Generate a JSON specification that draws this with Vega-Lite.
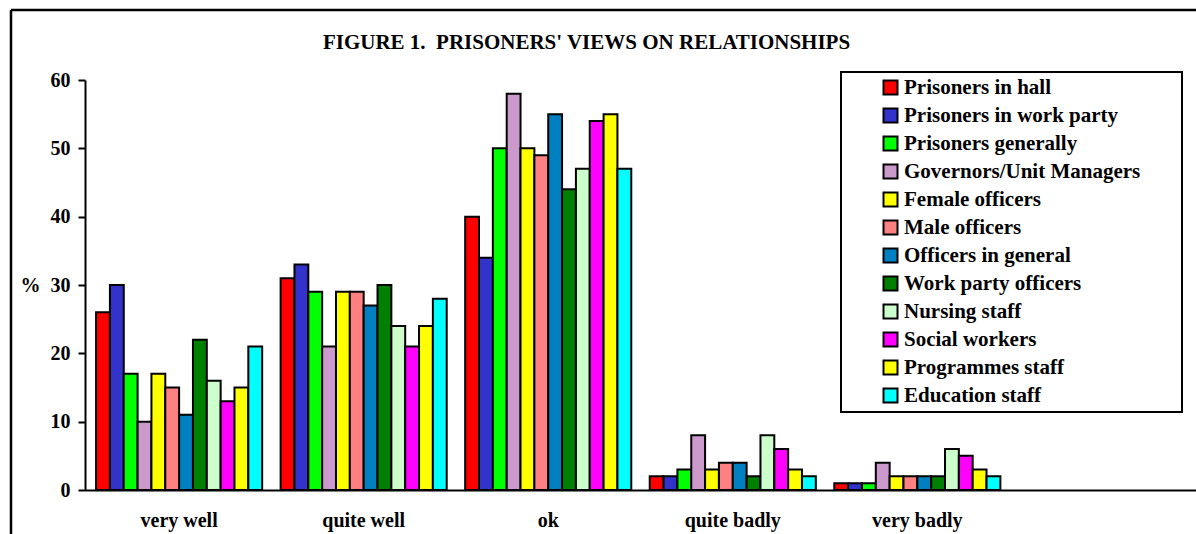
{
  "$schema": "https://vega.github.io/schema/vega-lite/v6.json",
  "width": 1185,
  "height": 524,
  "autosize": "none",
  "padding": {"left": 11, "top": 10, "right": 0, "bottom": 0},
  "background": "white",
  "title": {
    "text": "FIGURE 1.\u00a0 PRISONERS' VIEWS ON RELATIONSHIPS",
    "anchor": "middle",
    "orient": "top",
    "frame": "group",
    "offset": 0,
    "baseline": "middle",
    "dy": 54,
    "dx": -17,
    "font": "Liberation Serif",
    "fontSize": 21,
    "fontWeight": "bold",
    "color": "black"
  },
  "data": {
    "values": [
      {"response": "very well", "series": "Prisoners in hall", "pct": 26},
      {"response": "very well", "series": "Prisoners in work party", "pct": 30},
      {"response": "very well", "series": "Prisoners generally", "pct": 17},
      {"response": "very well", "series": "Governors/Unit Managers", "pct": 10},
      {"response": "very well", "series": "Female officers", "pct": 17},
      {"response": "very well", "series": "Male officers", "pct": 15},
      {"response": "very well", "series": "Officers in general", "pct": 11},
      {"response": "very well", "series": "Work party officers", "pct": 22},
      {"response": "very well", "series": "Nursing staff", "pct": 16},
      {"response": "very well", "series": "Social workers", "pct": 13},
      {"response": "very well", "series": "Programmes staff", "pct": 15},
      {"response": "very well", "series": "Education staff", "pct": 21},
      {"response": "quite well", "series": "Prisoners in hall", "pct": 31},
      {"response": "quite well", "series": "Prisoners in work party", "pct": 33},
      {"response": "quite well", "series": "Prisoners generally", "pct": 29},
      {"response": "quite well", "series": "Governors/Unit Managers", "pct": 21},
      {"response": "quite well", "series": "Female officers", "pct": 29},
      {"response": "quite well", "series": "Male officers", "pct": 29},
      {"response": "quite well", "series": "Officers in general", "pct": 27},
      {"response": "quite well", "series": "Work party officers", "pct": 30},
      {"response": "quite well", "series": "Nursing staff", "pct": 24},
      {"response": "quite well", "series": "Social workers", "pct": 21},
      {"response": "quite well", "series": "Programmes staff", "pct": 24},
      {"response": "quite well", "series": "Education staff", "pct": 28},
      {"response": "ok", "series": "Prisoners in hall", "pct": 40},
      {"response": "ok", "series": "Prisoners in work party", "pct": 34},
      {"response": "ok", "series": "Prisoners generally", "pct": 50},
      {"response": "ok", "series": "Governors/Unit Managers", "pct": 58},
      {"response": "ok", "series": "Female officers", "pct": 50},
      {"response": "ok", "series": "Male officers", "pct": 49},
      {"response": "ok", "series": "Officers in general", "pct": 55},
      {"response": "ok", "series": "Work party officers", "pct": 44},
      {"response": "ok", "series": "Nursing staff", "pct": 47},
      {"response": "ok", "series": "Social workers", "pct": 54},
      {"response": "ok", "series": "Programmes staff", "pct": 55},
      {"response": "ok", "series": "Education staff", "pct": 47},
      {"response": "quite badly", "series": "Prisoners in hall", "pct": 2},
      {"response": "quite badly", "series": "Prisoners in work party", "pct": 2},
      {"response": "quite badly", "series": "Prisoners generally", "pct": 3},
      {"response": "quite badly", "series": "Governors/Unit Managers", "pct": 8},
      {"response": "quite badly", "series": "Female officers", "pct": 3},
      {"response": "quite badly", "series": "Male officers", "pct": 4},
      {"response": "quite badly", "series": "Officers in general", "pct": 4},
      {"response": "quite badly", "series": "Work party officers", "pct": 2},
      {"response": "quite badly", "series": "Nursing staff", "pct": 8},
      {"response": "quite badly", "series": "Social workers", "pct": 6},
      {"response": "quite badly", "series": "Programmes staff", "pct": 3},
      {"response": "quite badly", "series": "Education staff", "pct": 2},
      {"response": "very badly", "series": "Prisoners in hall", "pct": 1},
      {"response": "very badly", "series": "Prisoners in work party", "pct": 1},
      {"response": "very badly", "series": "Prisoners generally", "pct": 1},
      {"response": "very badly", "series": "Governors/Unit Managers", "pct": 4},
      {"response": "very badly", "series": "Female officers", "pct": 2},
      {"response": "very badly", "series": "Male officers", "pct": 2},
      {"response": "very badly", "series": "Officers in general", "pct": 2},
      {"response": "very badly", "series": "Work party officers", "pct": 2},
      {"response": "very badly", "series": "Nursing staff", "pct": 6},
      {"response": "very badly", "series": "Social workers", "pct": 5},
      {"response": "very badly", "series": "Programmes staff", "pct": 3},
      {"response": "very badly", "series": "Education staff", "pct": 2}
    ]
  },
  "mark": {"type": "bar", "stroke": "black", "strokeWidth": 2, "strokeJoin": "miter"},
  "encoding": {
    "x": {
      "field": "response",
      "type": "nominal",
      "scale": {
        "domain": ["very well", "quite well", "ok", "quite badly", "very badly", " "],
        "range": [74, 1185],
        "paddingInner": 0.1,
        "paddingOuter": 0.06
      },
      "axis": {
        "title": null,
        "orient": "bottom",
        "offset": -44,
        "ticks": false,
        "labelAngle": 0,
        "labelPadding": 20,
        "labelFont": "Liberation Serif",
        "labelFontSize": 20,
        "labelFontWeight": "bold",
        "labelColor": "black",
        "domainColor": "black",
        "domainWidth": 2
      }
    },
    "xOffset": {
      "field": "series",
      "type": "nominal",
      "scale": {
        "domain": ["Prisoners in hall", "Prisoners in work party", "Prisoners generally", "Governors/Unit Managers", "Female officers", "Male officers", "Officers in general", "Work party officers", "Nursing staff", "Social workers", "Programmes staff", "Education staff"],
        "paddingInner": 0,
        "paddingOuter": 0
      }
    },
    "y": {
      "field": "pct",
      "type": "quantitative",
      "scale": {"domain": [0, 60], "nice": false, "range": [480, 70]},
      "axis": {
        "title": "%",
        "titleAngle": 0,
        "titleX": -55,
        "titleY": 275,
        "titleAlign": "center",
        "titleBaseline": "middle",
        "titleFont": "Liberation Serif",
        "titleFontSize": 20,
        "titleFontWeight": "bold",
        "titleColor": "black",
        "offset": -74,
        "values": [0, 10, 20, 30, 40, 50, 60],
        "grid": false,
        "tickColor": "black",
        "tickWidth": 2,
        "tickSize": 7,
        "labelPadding": 8,
        "labelFont": "Liberation Serif",
        "labelFontSize": 20,
        "labelFontWeight": "bold",
        "labelColor": "black",
        "domainColor": "black",
        "domainWidth": 2
      }
    },
    "fill": {
      "field": "series",
      "type": "nominal",
      "scale": {
        "domain": ["Prisoners in hall", "Prisoners in work party", "Prisoners generally", "Governors/Unit Managers", "Female officers", "Male officers", "Officers in general", "Work party officers", "Nursing staff", "Social workers", "Programmes staff", "Education staff"],
        "range": ["#FF0000", "#3333CC", "#00FF00", "#CC99CC", "#FFFF00", "#FF8080", "#0080C0", "#008000", "#CCFFCC", "#FF00FF", "#FFFF00", "#00FFFF"]
      },
      "legend": {
        "orient": "none",
        "legendX": 830,
        "legendY": 62,
        "title": "\u00a0",
        "titleOrient": "right",
        "titlePadding": 37,
        "padding": 5,
        "strokeColor": "black",
        "symbolType": "square",
        "symbolSize": 196,
        "symbolStrokeColor": "black",
        "symbolStrokeWidth": 2,
        "symbolOffset": 34,
        "labelOffset": 3,
        "rowPadding": 5,
        "labelFont": "Liberation Serif",
        "labelFontSize": 21,
        "labelFontWeight": "bold",
        "labelColor": "black",
        "labelLimit": 400
      }
    }
  },
  "config": {
    "view": {"stroke": "black", "strokeWidth": 2.5, "strokeDash": [1185, 1709, 524, 0]},
    "legend": {"strokeWidth": 2}
  }
}
